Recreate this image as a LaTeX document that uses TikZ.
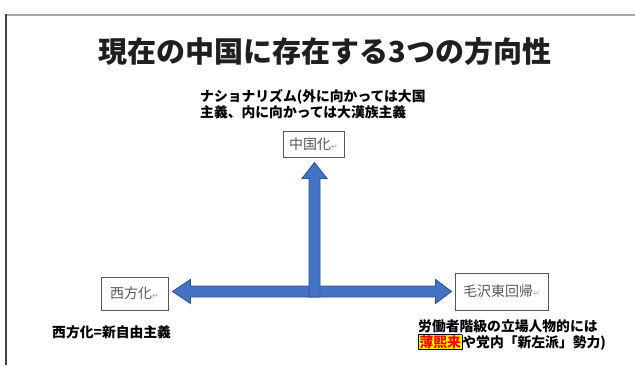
\documentclass[tikz,border=0pt]{standalone}
\usepackage{fontspec}
\setmainfont{Noto Sans CJK JP}
\newfontfamily\jp{Noto Sans CJK JP}
\newfontfamily\dvsans{DejaVu Sans}
\usetikzlibrary{calc}
\definecolor{arrowfill}{HTML}{4472C4}
\definecolor{arrowline}{HTML}{2F528F}
\definecolor{boxtext}{HTML}{595959}
\definecolor{retmark}{HTML}{A6A6A6}
\newcommand{\retm}{{\dvsans\fontsize{8}{8}\selectfont\textcolor{retmark}{↵}}}
\begin{document}
\begin{tikzpicture}[x=1pt,y=-1pt,
  optbox/.style={draw=boxtext, line width=0.9pt, rectangle, inner sep=0pt, fill=white,
    font=\jp\fontsize{14}{14}\selectfont, text=boxtext},
  lbl/.style={inner sep=0pt, anchor=north west, align=left,
    font=\jp\bfseries\fontsize{13.8}{16.5}\selectfont},
  blockarrow/.style={fill=arrowfill, draw=arrowline, line width=0.8pt, line join=miter}]
\useasboundingbox (0,0) rectangle (635,367);
\fill[white] (0,0) rectangle (635,367);
% slide frame
\draw[line width=2pt, color=black!35] (6,15) -- (635,15);
\draw[line width=1.6pt, color=black!75] (6,14) -- (6,365);
% title
\node[inner sep=0pt, font=\jp\bfseries\fontsize{29}{31}\selectfont, text=black!88] (title) at (325,52) {現在の中国に存在する3つの方向性};
% option boxes
\node[optbox, minimum width=61pt, minimum height=26pt] (cn) at (313.5,144) {中国化\retm};
\node[optbox, minimum width=67pt, minimum height=33pt] (west) at (134.5,293.5) {西方化\retm};
\node[optbox, minimum width=93pt, minimum height=37pt] (mao) at (501.5,291.5) {毛沢東回帰\retm};
% junction
\coordinate (j) at (314.5,291.5);
% horizontal double arrow
\coordinate (lt) at ($(west.east)+(4,-2)$);
\coordinate (rt) at ($(mao.west)+(-3,0)$);
\path[blockarrow] (lt|-j) -- ++(18,-12) -- ++(0,6.5) -- ($(rt|-j)+(-16,-5.5)$) -- ++(0,-6.5) -- (rt|-j)
  -- ++(-16,12) -- ++(0,-6.5) -- ($(lt|-j)+(18,5.5)$) -- ++(0,6.5) -- cycle;
% vertical arrow
\coordinate (vt) at ($(cn.south)+(1,5)$);
\path[blockarrow] (vt) -- ++(12.5,16) -- ++(-7,0) -- ($(j)+(5.5,5.5)$) -- ++(-11,0) -- ($(vt)+(-5.5,16)$) -- ++(-7,0) -- cycle;
% labels
\node[lbl] (nat) at (200,89) {ナショナリズム(外に向かっては大国\\主義、内に向かっては大漢族主義};
\node[lbl] (wl) at (52,325) {西方化=新自由主義};
\node[lbl] (ml) at (418,319) {労働者階級の立場人物的には\\{\setlength{\fboxsep}{0.6pt}\setlength{\fboxrule}{0.8pt}\fcolorbox{black}{yellow}{\textcolor{red}{薄熙来}}}や党内「新左派」勢力)};
\end{tikzpicture}
\end{document}
